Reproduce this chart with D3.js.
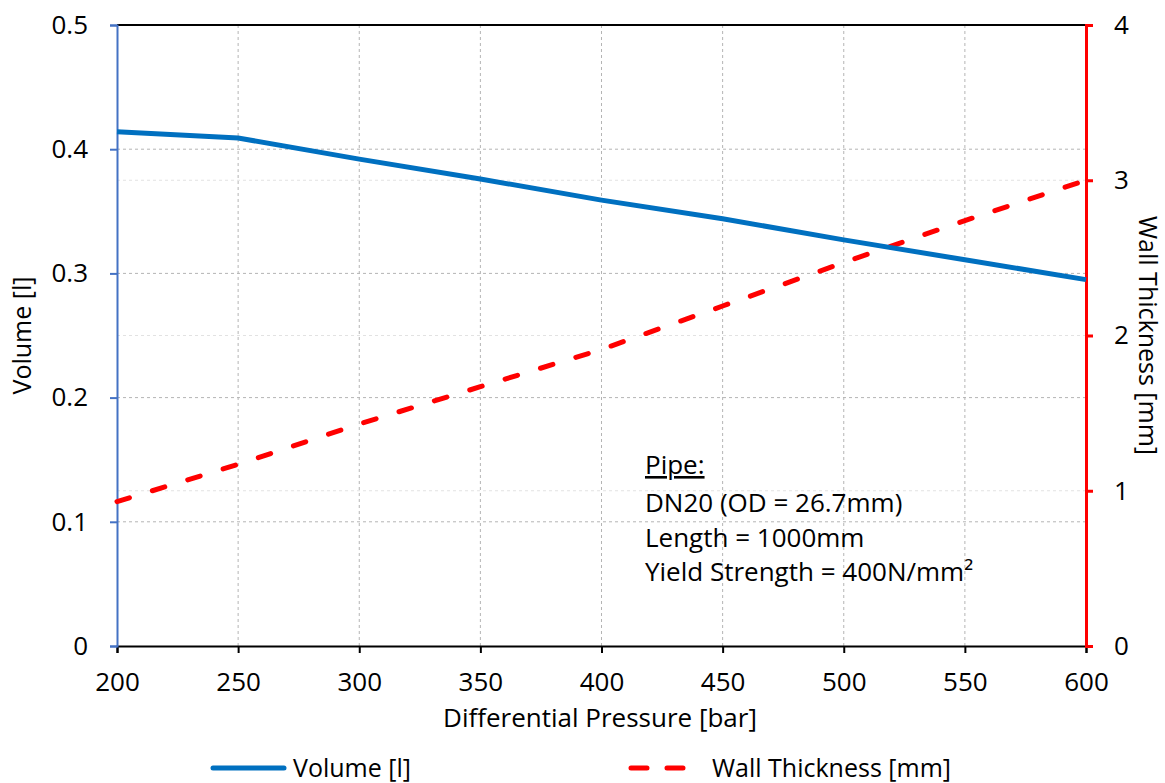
<!DOCTYPE html>
<html lang="en">
  <head>
    <meta charset="utf-8">
    <title>Volume and wall thickness vs pressure</title>
    <script src="https://cdn.jsdelivr.net/npm/d3@7"></script>
    <style>
      body { margin: 0; background: #fff; }
      text { font-family: "Open Sans", sans-serif; fill: #000; }
    </style>
  </head>
  <body>
    <script>
      // data
      var pressure = [200, 250, 300, 350, 400, 450, 500, 550, 600];
      var volume = [0.414, 0.409, 0.392, 0.376, 0.359, 0.344, 0.327, 0.311, 0.295];
      var wallThickness = [0.93, 1.17, 1.43, 1.67, 1.91, 2.19, 2.47, 2.74, 3.0];
      var xTicks = [200, 250, 300, 350, 400, 450, 500, 550, 600];
      var volTicks = [0, 0.1, 0.2, 0.3, 0.4, 0.5];
      var wallTicks = [0, 1, 2, 3, 4];
      var noteLines = ["DN20 (OD = 26.7mm)", "Length = 1000mm", "Yield Strength = 400N/mm\u00b2"];

      var w = 1165, h = 783;
      // plot edges (don't use "top" - it clashes with window.top)
      var pLeft = 117, pRight = 1086, pTop = 25, pBottom = 646;
      var fs = "26px";

      var svg = d3.select("body").append("svg")
        .attr("width", w)
        .attr("height", h);

      var x = d3.scaleLinear().domain([200, 600]).range([pLeft, pRight]);
      var yVol = d3.scaleLinear().domain([0, 0.5]).range([pBottom, pTop]);
      var yWall = d3.scaleLinear().domain([0, 4]).range([pBottom, pTop]);

      //gridlines - right axis ones are lighter
      svg.append("g").selectAll("line")
        .data(wallTicks.slice(1, -1))
        .enter().append("line")
        .attr("x1", pLeft).attr("x2", pRight)
        .attr("y1", function(d) { return yWall(d); })
        .attr("y2", function(d) { return yWall(d); })
        .attr("stroke", "#e2e2e2")
        .attr("stroke-dasharray", "3,3");

      svg.append("g").selectAll("line")
        .data(volTicks.slice(1, -1))
        .enter().append("line")
        .attr("x1", pLeft).attr("x2", pRight)
        .attr("y1", function(d) { return yVol(d); })
        .attr("y2", function(d) { return yVol(d); })
        .attr("stroke", "#b4b4b4")
        .attr("stroke-dasharray", "3,3");

      svg.append("g").selectAll("line")
        .data(xTicks.slice(1, -1))
        .enter().append("line")
        .attr("x1", function(d) { return x(d); })
        .attr("x2", function(d) { return x(d); })
        .attr("y1", pTop).attr("y2", pBottom)
        .attr("stroke", "#b4b4b4")
        .attr("stroke-dasharray", "3,3");

      // top border
      svg.append("line")
        .attr("x1", pLeft).attr("x2", pRight)
        .attr("y1", pTop).attr("y2", pTop)
        .attr("stroke", "#000").attr("stroke-width", 2);

      // axes
      var xAxis = d3.axisBottom(x).tickValues(xTicks).tickSize(7).tickPadding(20)
        .tickFormat(d3.format("d"));
      var gx = svg.append("g")
        .attr("transform", "translate(0," + pBottom + ")")
        .call(xAxis);
      gx.select(".domain").attr("stroke", "#000").attr("stroke-width", 2);
      gx.selectAll(".tick line").attr("stroke", "#000").attr("stroke-width", 2);
      gx.selectAll("text").attr("font-size", fs).attr("font-family", "Open Sans").attr("fill", "#000");

      var yAxisL = d3.axisLeft(yVol).tickValues(volTicks).tickSize(7).tickPadding(22)
        .tickFormat(function(d) { return d === 0 ? "0" : d3.format(".1f")(d); });
      var gl = svg.append("g")
        .attr("transform", "translate(" + pLeft + ",0)")
        .call(yAxisL);
      gl.select(".domain").attr("stroke", "#4472c4").attr("stroke-width", 2);
      gl.selectAll(".tick line").attr("stroke", "#4472c4").attr("stroke-width", 2);
      gl.selectAll("text").attr("font-size", fs).attr("font-family", "Open Sans").attr("fill", "#000");

      var yAxisR = d3.axisRight(yWall).tickValues(wallTicks).tickSize(7).tickPadding(21)
        .tickFormat(d3.format("d"));
      var gr = svg.append("g")
        .attr("transform", "translate(" + pRight + ",0)")
        .call(yAxisR);
      gr.select(".domain").attr("stroke", "#ff0000").attr("stroke-width", 3);
      gr.selectAll(".tick line").attr("stroke", "#ff0000").attr("stroke-width", 3);
      gr.selectAll("text").attr("font-size", fs).attr("font-family", "Open Sans").attr("fill", "#000");

      // lines
      var volLine = d3.line()
        .x(function(d, i) { return x(pressure[i]); })
        .y(function(d) { return yVol(d); });
      var wallLine = d3.line()
        .x(function(d, i) { return x(pressure[i]); })
        .y(function(d) { return yWall(d); });

      svg.append("path")
        .datum(wallThickness)
        .attr("d", wallLine)
        .attr("fill", "none")
        .attr("stroke", "#ff0000")
        .attr("stroke-width", 5)
        .attr("stroke-linecap", "round")
        .attr("stroke-dasharray", "13,24");

      svg.append("path")
        .datum(volume)
        .attr("d", volLine)
        .attr("fill", "none")
        .attr("stroke", "#0070c0")
        .attr("stroke-width", 5);

      // axis titles
      svg.append("text")
        .attr("x", 600).attr("y", 727)
        .attr("text-anchor", "middle")
        .attr("font-size", "26px")
        .attr("fill", "#404040")
        .text("Differential Pressure [bar]");

      svg.append("text")
        .attr("transform", "translate(31," + ((pTop + pBottom) / 2) + ") rotate(-90)")
        .attr("text-anchor", "middle")
        .attr("font-size", "25px")
        .attr("fill", "#404040")
        .text("Volume [l]");

      svg.append("text")
        .attr("transform", "translate(1139," + ((pTop + pBottom) / 2) + ") rotate(90)")
        .attr("text-anchor", "middle")
        .attr("font-size", "25px")
        .attr("fill", "#404040")
        .text("Wall Thickness [mm]");

      // annotation
      var note = svg.append("g").attr("transform", "translate(645,0)");
      note.append("text")
        .attr("x", 0).attr("y", 474)
        .attr("font-size", fs)
        .attr("text-decoration", "underline")
        .text("Pipe:");
      note.selectAll("text.line")
        .data(noteLines)
        .enter().append("text")
        .attr("class", "line")
        .attr("x", 0)
        .attr("y", function(d, i) { return 512 + i * 34.5; })
        .attr("font-size", fs)
        .text(function(d) { return d; });

      // legend
      var legend = svg.append("g");
      legend.append("line")
        .attr("x1", 213).attr("x2", 284).attr("y1", 768).attr("y2", 768)
        .attr("stroke", "#0070c0").attr("stroke-width", 5).attr("stroke-linecap", "round");
      legend.append("text")
        .attr("x", 293).attr("y", 777)
        .attr("font-size", "25px")
        .text("Volume [l]");
      legend.append("line")
        .attr("x1", 631).attr("x2", 684).attr("y1", 768).attr("y2", 768)
        .attr("stroke", "#ff0000").attr("stroke-width", 5).attr("stroke-linecap", "round")
        .attr("stroke-dasharray", "16,20");
      legend.append("text")
        .attr("x", 712).attr("y", 777)
        .attr("font-size", "25px")
        .text("Wall Thickness [mm]");
    </script>
  </body>
</html>
